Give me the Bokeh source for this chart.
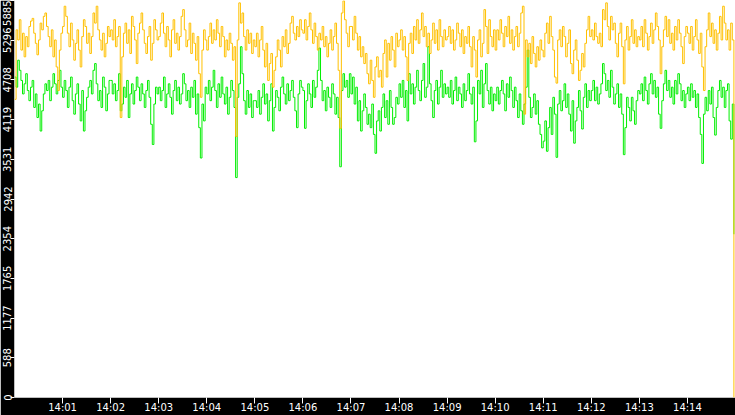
from bokeh.plotting import figure
from bokeh.models import Range1d, FixedTicker, DatetimeTickFormatter
from bokeh.embed import file_html
from bokeh.resources import INLINE
import pandas as pd

# one row per minute, one value every 2 seconds (14:00:00 .. 14:14:58)
orange_rows = [
    [4420, 5450, 5300, 5600, 5150, 5400, 5050, 5350, 5200, 5500, 5580, 5620, 5400, 5250, 5080, 5300, 5550, 5450, 5650, 5700, 5500, 5350, 5200, 5450, 5050, 5300, 4900, 4550, 5150, 5400],
    [5500, 5800, 5650, 5400, 5200, 5550, 5300, 5000, 5250, 5450, 5150, 4900, 5350, 5600, 5500, 5250, 5400, 5100, 5350, 5700, 5550, 5800, 5450, 5300, 5150, 5400, 5050, 5250, 5500, 5350],
    [5450, 5300, 5600, 5200, 5350, 5500, 4150, 5050, 5400, 5550, 5250, 5450, 5100, 5650, 5500, 5300, 4950, 5400, 5550, 5700, 5450, 5250, 5100, 5350, 5500, 5000, 5250, 5600, 5450, 5300],
    [5350, 5550, 5700, 5400, 5200, 5500, 5300, 5050, 5450, 5600, 5250, 5400, 5150, 5350, 5650, 5750, 5450, 5200, 5300, 5550, 5100, 5400, 5250, 5000, 5350, 4800, 4450, 5150, 5450, 5300],
    [5150, 5350, 5550, 5250, 5450, 5300, 5600, 5400, 5200, 5500, 5350, 5050, 5300, 5150, 5400, 5250, 5000, 5200, 3870, 5300, 5850, 5550, 5700, 5350, 5150, 5450, 5250, 5400, 5100, 5300],
    [5200, 5400, 5050, 5300, 5500, 5150, 4900, 5250, 4700, 4950, 5100, 4600, 4850, 5050, 5300, 5150, 4900, 5350, 5200, 5450, 5100, 5250, 5550, 5650, 5400, 5300, 5500, 5350, 5600, 5450],
    [5400, 5600, 5300, 5500, 5700, 5450, 5250, 5550, 5350, 5150, 5400, 5300, 5500, 5200, 5350, 5050, 5250, 5450, 5150, 5350, 5550, 5250, 4850, 3990, 5700, 5880, 5600, 5400, 5200, 5500],
    [5500, 5300, 5650, 5400, 5150, 5350, 5050, 5200, 4950, 5100, 4800, 4650, 5000, 4700, 4450, 4900, 5050, 4750, 4850, 4600, 5100, 5300, 4750, 5250, 5000, 5350, 5150, 4900, 5400, 5200],
    [5300, 5450, 5150, 5350, 5050, 4700, 5250, 5400, 5100, 5500, 5300, 5600, 5250, 5450, 5700, 5350, 5500, 5200, 5400, 5100, 5300, 5550, 5250, 5450, 5150, 5600, 5350, 5200, 5450, 5300],
    [5350, 5500, 5250, 5450, 5150, 5300, 5550, 5400, 5200, 5450, 5100, 5350, 5250, 5500, 5200, 4900, 5350, 5150, 4750, 5300, 5450, 5050, 5250, 5750, 5500, 5100, 5600, 5350, 5200, 5450],
    [5150, 5450, 5300, 5600, 5400, 5200, 5500, 5350, 5650, 5250, 5450, 5150, 5350, 5500, 5200, 5400, 5700, 5800, 4200, 5300, 5050, 5250, 4950, 5350, 5100, 4900, 5200, 5000, 5300, 5150],
    [5050, 5400, 5550, 5250, 5650, 5350, 5150, 4750, 4660, 5300, 5450, 5200, 5500, 5350, 5050, 5250, 5450, 4950, 4800, 5150, 5300, 5000, 4700, 4850, 5100, 4900, 5250, 5450, 5650, 5350],
    [5450, 5300, 5550, 5350, 5250, 5400, 5200, 5750, 5600, 5850, 5500, 5300, 5650, 5450, 5550, 5250, 5050, 5400, 5550, 5200, 4650, 5300, 5500, 5150, 5350, 5600, 5250, 5450, 5200, 5350],
    [5300, 5500, 5200, 5600, 5400, 5150, 5350, 5550, 5250, 5450, 5700, 5500, 5300, 4800, 5200, 5450, 5650, 5350, 5600, 5250, 5400, 5150, 5500, 5300, 5600, 5400, 5200, 4950, 5350, 5500],
    [5400, 5250, 5500, 5150, 5350, 5600, 5300, 5100, 5400, 4900, 4550, 5200, 5450, 5700, 5350, 5550, 5250, 5450, 5150, 5400, 5650, 5300, 5800, 5550, 5300, 5450, 5150, 5550, 5300, 0],
]

green_rows = [
    [4750, 4600, 5000, 4850, 4700, 4500, 4650, 4800, 4550, 4400, 4600, 4700, 4300, 4500, 4150, 4350, 3950, 4250, 4500, 4650, 4550, 4700, 4400, 4600, 4800, 4650, 4500, 4700, 4850, 4600],
    [4450, 4700, 4550, 4300, 4600, 4750, 4400, 4200, 4500, 4650, 4350, 4100, 4550, 3950, 4250, 4450, 4600, 4700, 4500, 4850, 4950, 4650, 4400, 4550, 4300, 4750, 4600, 4250, 4500, 4700],
    [4700, 4500, 4650, 4400, 4550, 4800, 4250, 4350, 4600, 4450, 4700, 4150, 4500, 4650, 4350, 4550, 4750, 4600, 4400, 4650, 4500, 4300, 4550, 4700, 4450, 4050, 3750, 4350, 4600, 4500],
    [4600, 4400, 4550, 4750, 4300, 4500, 4650, 4450, 4200, 4550, 4700, 4400, 4600, 4350, 4500, 4800, 4650, 4400, 4550, 4300, 4600, 4450, 4700, 4200, 4500, 4000, 3550, 4350, 4100, 4600],
    [4500, 4700, 4400, 4600, 4850, 4550, 4300, 4650, 4450, 4750, 4500, 4350, 4600, 4200, 4450, 4700, 4550, 4300, 3260, 4450, 4650, 5200, 4800, 4400, 4200, 4550, 4300, 4500, 4150, 4400],
    [4400, 4300, 4550, 4200, 4450, 4650, 4350, 4500, 4100, 4400, 4650, 3950, 4300, 4550, 4450, 4250, 4600, 4750, 4500, 4350, 4650, 4400, 4550, 4700, 4450, 4250, 4000, 4500, 4700, 4600],
    [4550, 3990, 4400, 4650, 4500, 4300, 4700, 4450, 4600, 4850, 5180, 4700, 4400, 4550, 4250, 4600, 4450, 4300, 4650, 4500, 4200, 4450, 4150, 3420, 4550, 4800, 4600, 4700, 4450, 4800],
    [4500, 4750, 4350, 4600, 4100, 4400, 3950, 4250, 4500, 4300, 4050, 4200, 4000, 4350, 3900, 3620, 4100, 4250, 3950, 4300, 4500, 4150, 4400, 4050, 4550, 4300, 4050, 4150, 4450, 4350],
    [4650, 4450, 4700, 4300, 4550, 4100, 4800, 4500, 4650, 4350, 4600, 4850, 4550, 4400, 4700, 4950, 4450, 4600, 5200, 4650, 4400, 4150, 4550, 4700, 4350, 4600, 4850, 4450, 4650, 4500],
    [4600, 4450, 4700, 4350, 4550, 4750, 4400, 4600, 4500, 4300, 4650, 4400, 4550, 4800, 4500, 4350, 4600, 3790, 4100, 4700, 4500, 4850, 4300, 4650, 4950, 4550, 4350, 4600, 4250, 4500],
    [4400, 4600, 4350, 4550, 4700, 4500, 4250, 4650, 4450, 4750, 4550, 4300, 4600, 4400, 4150, 4500, 4250, 4050, 4350, 4600, 5150, 4450, 4150, 4300, 4500, 4200, 4400, 4050, 3900, 3700],
    [3800, 4100, 3650, 4000, 4300, 3900, 4450, 4200, 3560, 4350, 4550, 4250, 4400, 4650, 4300, 4500, 4200, 3950, 4400, 3770, 4100, 4300, 4550, 4250, 3980, 4450, 4650, 4300, 4550, 4400],
    [4550, 4700, 4400, 4600, 4350, 4500, 4650, 4950, 4800, 4550, 4700, 4450, 4850, 4600, 4350, 4500, 4650, 4300, 4500, 4200, 3600, 4000, 4450, 4300, 4100, 4450, 4250, 4050, 4400, 4550],
    [4500, 4650, 4400, 4750, 4550, 4350, 4650, 4800, 4500, 4700, 4450, 4600, 4200, 3990, 4400, 4650, 4850, 4550, 4700, 4450, 4600, 4350, 4700, 4500, 4800, 4650, 4400, 4550, 4300, 4500],
    [4600, 4400, 4650, 4450, 4550, 4300, 4500, 4150, 3900, 3470, 4200, 4450, 4250, 4550, 4350, 4600, 4150, 3890, 4300, 4550, 4700, 4450, 4600, 4300, 4550, 4650, 4100, 3830, 4350, 2420],
]

y_tick_labels = ["0", "588", "1177", "1765", "2354", "2942", "3531", "4119", "4708", "5296", "5885"]
y_max = 5885
x_tick_minutes = list(range(1, 15))  # 14:01 .. 14:14

start = pd.Timestamp("2024-01-01 14:00:00")
orange = [v for row in orange_rows for v in row]
green = [v for row in green_rows for v in row]
t_orange = pd.date_range(start, periods=len(orange), freq="2s")
t_green = pd.date_range(start, periods=len(green), freq="2s")

p = figure(width=735, height=415, x_axis_type="datetime",
           x_range=Range1d(start, start + pd.Timedelta(minutes=15)),
           y_range=Range1d(0, y_max),
           output_backend="svg", toolbar_location=None)

p.background_fill_color = "white"
p.border_fill_color = "black"
p.outline_line_color = None
p.grid.visible = False
p.min_border_left = 0
p.min_border_right = 0
p.min_border_top = 0
p.min_border_bottom = 0

p.step(t_green, green, mode="after", line_color="#00EE00", line_width=1)
p.step(t_orange, orange, mode="after", line_color="#FFC000", line_width=1)

# y axis: ticks at tenths of the max, labels truncated
y_ticks = [y_max * i / 10 for i in range(len(y_tick_labels))]
p.yaxis.ticker = FixedTicker(ticks=y_ticks)
p.yaxis.major_label_overrides = dict(zip(y_ticks, y_tick_labels))
p.yaxis.major_label_orientation = "vertical"
p.yaxis.major_tick_out = 4
p.yaxis.major_tick_in = 0
p.yaxis.major_label_standoff = -1

# x axis: one tick per minute
x_ticks = [(start + pd.Timedelta(minutes=m)).timestamp() * 1000 for m in x_tick_minutes]
p.xaxis.ticker = FixedTicker(ticks=x_ticks)
fmt = "%H:%M"
p.xaxis.formatter = DatetimeTickFormatter(seconds=fmt, minsec=fmt, minutes=fmt,
                                          hourmin=fmt, hours=fmt, days=fmt)
p.xaxis.major_tick_out = 6
p.xaxis.major_tick_in = 0
p.xaxis.major_label_standoff = -2

for ax in (p.xaxis, p.yaxis):
    ax.axis_line_color = None
    ax.minor_tick_line_color = None
    ax.major_tick_line_color = "white"
    ax.major_label_text_color = "white"
    ax.major_label_text_font = "DejaVu Sans"
    ax.major_label_text_font_size = "10px"

open("out.html", "w").write(file_html(p, INLINE))
